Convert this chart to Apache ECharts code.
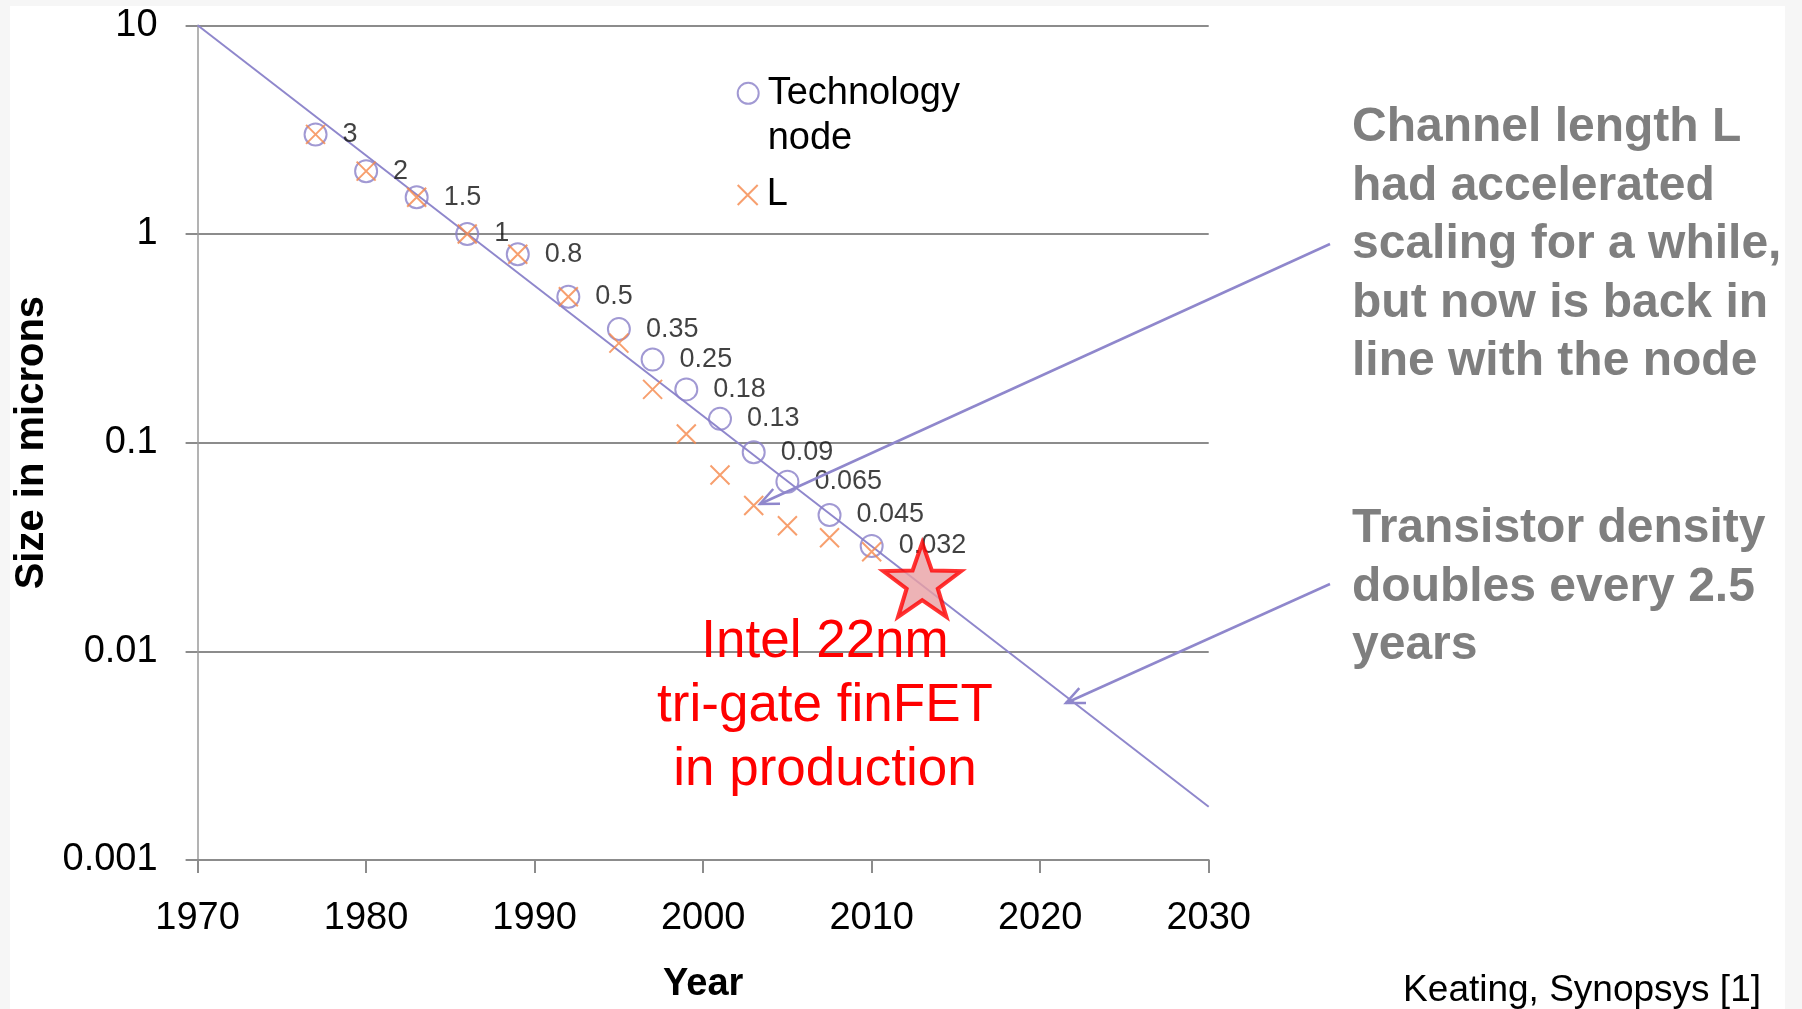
<!DOCTYPE html>
<html>
<head>
<meta charset="utf-8">
<style>
html,body{margin:0;padding:0;background:#fff;}
#chart{width:1802px;height:1009px;}
</style>
<script src="https://cdn.jsdelivr.net/npm/echarts@6/dist/echarts.min.js"></script>
</head>
<body>
<div id="chart"></div>
<script>
// ---- data ----
const nodeYears   = [1977, 1980, 1983, 1986, 1989, 1992, 1995, 1997, 1999, 2001, 2003, 2005, 2007.5, 2010];
const nodeSizes   = [3, 2, 1.5, 1, 0.8, 0.5, 0.35, 0.25, 0.18, 0.13, 0.09, 0.065, 0.045, 0.032];
const lYears      = [1977, 1980, 1983, 1986, 1989, 1992, 1995, 1997, 1999, 2001, 2003, 2005, 2007.5, 2010];
const lSizes      = [3, 2, 1.5, 1, 0.8, 0.5, 0.30, 0.18, 0.11, 0.07, 0.05, 0.04, 0.035, 0.030];
const trendYears  = [1970, 2030];
const trendSizes  = [10, 0.0018];
const starYears   = [2013];
const starSizes   = [0.022];
const xTickLabels = ['1970', '1980', '1990', '2000', '2010', '2020', '2030'];
const yTickLabels = ['0.001', '0.01', '0.1', '1', '10'];

const seriesNames = ['Technology node', 'L'];

// ---- styling ----
const FONT = 'Liberation Sans, Arial, sans-serif';
const PURPLE = '#8a80c8';
const ORANGE = '#f5874a';
const LINEPURPLE = '#8f87cc';
const GRID = '#8c8c8c';

function starPath() {
  const pts = [];
  for (let i = 0; i < 10; i++) {
    const r = i % 2 === 0 ? 50 : 20;
    const a = -Math.PI / 2 + i * Math.PI / 5;
    pts.push((50 + r * Math.cos(a)).toFixed(2) + ',' + (50 + r * Math.sin(a)).toFixed(2));
  }
  return 'path://M' + pts.join('L') + 'Z';
}
const xPath = 'path://M0,0L10,10M10,0L0,10';

function yLabel(v) {
  const e = Math.round(Math.log10(v));
  const idx = e + 3;
  return yTickLabels[idx] !== undefined ? yTickLabels[idx] : '';
}
function xLabel(v) {
  const idx = Math.round((v - 1970) / 10);
  return xTickLabels[idx] !== undefined ? xTickLabels[idx] : '';
}

function arrow(x1, y1, x2, y2) {
  const ang = Math.atan2(y2 - y1, x2 - x1);
  const len = 20, spread = 0.42;
  const a1 = ang + Math.PI - spread, a2 = ang + Math.PI + spread;
  const style = { stroke: LINEPURPLE, lineWidth: 2.5, fill: null };
  return [
    { type: 'line', shape: { x1: x1, y1: y1, x2: x2, y2: y2 }, style: style, z: 20 },
    { type: 'polyline', shape: { points: [
        [x2 + len * Math.cos(a1), y2 + len * Math.sin(a1)],
        [x2, y2],
        [x2 + len * Math.cos(a2), y2 + len * Math.sin(a2)]
      ] }, style: style, z: 20 }
  ];
}

const chart = echarts.init(document.getElementById('chart'), null, { renderer: 'canvas' });

const option = {
  animation: false,
  backgroundColor: '#ffffff',
  textStyle: { fontFamily: FONT },
  grid: { left: 197.6, right: 593.3, top: 25.3, bottom: 143.3, containLabel: false },
  xAxis: {
    type: 'value', min: 1970, max: 2030, interval: 10,
    name: 'Year', nameLocation: 'middle', nameGap: 106,
    nameTextStyle: { fontFamily: FONT, fontSize: 38, fontWeight: 'bold', color: '#000' },
    axisLine: { show: true, onZero: false, lineStyle: { color: GRID, width: 2 } },
    axisTick: { show: true, length: 13, lineStyle: { color: GRID, width: 2 } },
    axisLabel: { formatter: xLabel, fontFamily: FONT, fontSize: 38, color: '#000', margin: 40 },
    splitLine: { show: false }
  },
  yAxis: {
    type: 'log', logBase: 10, min: 0.001, max: 10,
    name: 'Size in microns', nameLocation: 'middle', nameGap: 146, nameRotate: 90,
    nameTextStyle: { fontFamily: FONT, fontSize: 40, fontWeight: 'bold', color: '#000' },
    axisLine: { show: true, lineStyle: { color: '#9a9a9a', width: 1.5 } },
    axisTick: { show: true, length: 12, lineStyle: { color: GRID, width: 2 } },
    minorTick: { show: false },
    axisLabel: { formatter: yLabel, fontFamily: FONT, fontSize: 38, color: '#000', margin: 40 },
    splitLine: { show: true, lineStyle: { color: GRID, width: 2 } }
  },
  legend: [
    {
      data: [{ name: seriesNames[0] }],
      formatter: function () { return ' \nTechnology\nnode'; },
      left: 736.7, top: 25.8, padding: 0,
      itemWidth: 21, itemHeight: 21,
      textStyle: { fontFamily: FONT, fontSize: 38, lineHeight: 45, color: '#000', padding: [0, 0, 0, 4] }
    },
    {
      data: [{ name: seriesNames[1] }],
      left: 736.7, top: 172.5, padding: 0,
      itemWidth: 20, itemHeight: 20,
      textStyle: { fontFamily: FONT, fontSize: 38, lineHeight: 45, color: '#000', padding: [0, 0, 0, 4] }
    }
  ],
  series: [
    {
      name: 'trend', type: 'line', z: 1,
      data: trendYears.map((y, i) => [y, trendSizes[i]]),
      showSymbol: false, symbol: 'none', silent: true,
      lineStyle: { color: LINEPURPLE, width: 2 }
    },
    {
      name: seriesNames[0], type: 'scatter', z: 2,
      data: nodeYears.map((y, i) => [y, nodeSizes[i]]),
      symbol: 'circle', symbolSize: 22,
      itemStyle: { color: 'rgba(0,0,0,0)', borderColor: PURPLE, borderWidth: 2 },
      label: {
        show: true, position: 'right', distance: 15,
        formatter: p => String(p.value[1]),
        fontFamily: FONT, fontSize: 27, color: '#111'
      }
    },
    {
      name: seriesNames[1], type: 'scatter', z: 3,
      data: lYears.map((y, i) => [y, lSizes[i]]),
      symbol: xPath, symbolSize: 19,
      itemStyle: { color: 'rgba(0,0,0,0)', borderColor: ORANGE, borderWidth: 2 }
    },
    {
      name: 'Intel 22nm', type: 'scatter', z: 4,
      data: starYears.map((y, i) => [y, starSizes[i]]),
      symbol: starPath(), symbolSize: [78, 74], symbolKeepAspect: false,
      itemStyle: { color: '#e8a0a4', borderColor: '#ff0000', borderWidth: 4 }
    }
  ],
  graphic: [
    { type: 'rect', shape: { x: 0, y: 0, width: 10, height: 1009 }, style: { fill: '#f6f6f6' }, z: 0 },
    { type: 'rect', shape: { x: 1785, y: 0, width: 17, height: 1009 }, style: { fill: '#f6f6f6' }, z: 0 },
    { type: 'rect', shape: { x: 0, y: 0, width: 1802, height: 6 }, style: { fill: '#f6f6f6' }, z: 0 },
    ...arrow(1330, 244, 760, 504),
    ...arrow(1330, 584, 1066, 703),
    {
      type: 'text', left: 1352, top: 99, z: 20,
      style: {
        text: 'Channel length L\nhad accelerated\nscaling for a while,\nbut now is back in\nline with the node',
        font: 'bold 48px ' + FONT, lineHeight: 58.4, fill: '#7f7f7f'
      }
    },
    {
      type: 'text', left: 1352, top: 500, z: 20,
      style: {
        text: 'Transistor density\ndoubles every 2.5\nyears',
        font: 'bold 48px ' + FONT, lineHeight: 58.4, fill: '#7f7f7f'
      }
    },
    {
      type: 'text', x: 825, y: 610, z: 20,
      style: {
        text: 'Intel 22nm\ntri-gate finFET\nin production',
        font: '53px ' + FONT, lineHeight: 64, fill: '#ff0000',
        align: 'center', verticalAlign: 'top'
      }
    },
    {
      type: 'text', x: 1761, y: 991, z: 20,
      style: {
        text: 'Keating, Synopsys [1]',
        font: '37px ' + FONT, fill: '#000',
        align: 'right', verticalAlign: 'middle'
      }
    }
  ]
};
chart.setOption(option);
</script>
</body>
</html>
